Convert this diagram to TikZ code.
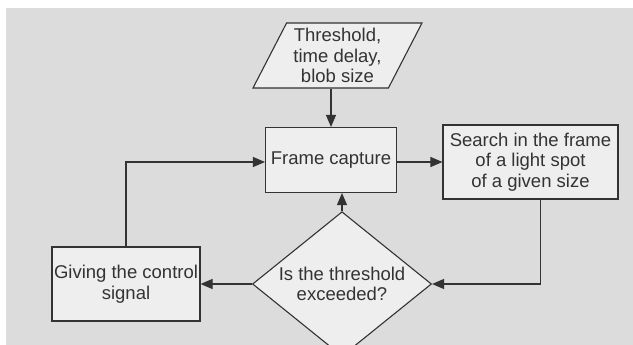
\documentclass[tikz,border=0pt]{standalone}
\usepackage{fontspec}
\setmainfont{Liberation Sans}
\usetikzlibrary{shapes.geometric,arrows.meta,positioning}

\definecolor{bggray}{HTML}{DCDCDC}
\definecolor{boxfill}{HTML}{EEEEEE}
\definecolor{linegray}{HTML}{333333}

\begin{document}
\begin{tikzpicture}[x=1pt, y=-1pt,
    every node/.style={draw=linegray, line width=1.1pt, fill=boxfill, text=linegray, align=center,
      font=\fontsize{18.5}{20.5}\selectfont, inner sep=0pt},
    process/.style={rectangle},
    decision/.style={diamond, inner sep=-4pt, minimum width=179pt, minimum height=116pt},
    inputbox/.style={trapezium, trapezium left angle=58.4, trapezium right angle=121.6,
      trapezium stretches body=true, minimum width=169pt, minimum height=65pt},
    arr/.style={-{Triangle[length=12pt,width=10pt]}, draw=linegray, line width=1.1pt}]
    \useasboundingbox (0,0) rectangle (633,345);
    \fill[white] (0,0) rectangle (633,345);
    \fill[bggray] (6,8) rectangle (633,345);

    \node (params) [inputbox] at (337.5,55.5) {Threshold,\\ time delay,\\ blob size};
    \node (frame) [process, minimum width=131pt, minimum height=65pt] at (331,160) {Frame capture};
    \node (search) [process, minimum width=175pt, minimum height=74pt] at (530.5,162) {Search in the frame\\ of a light spot\\ of a given size};
    \node (decide) [decision] at (342,284) {Is the threshold\\ exceeded?};
    \node (signal) [process, minimum width=148pt, minimum height=74pt] at (126,284) {Giving the control\\ signal};

    \draw[arr] (params.south -| frame.north) -- (frame.north);
    \draw[arr] (frame.east |- search.west) -- (search.west);
    \draw[arr] ([xshift=10pt]search.south) |- (decide.east);
    \draw[arr] (decide.north) -- (decide.north |- frame.south);
    \draw[arr] (decide.west) -- (signal.east);
    \draw[arr] (signal.north) |- (frame.west |- search.west);
\end{tikzpicture}
\end{document}
